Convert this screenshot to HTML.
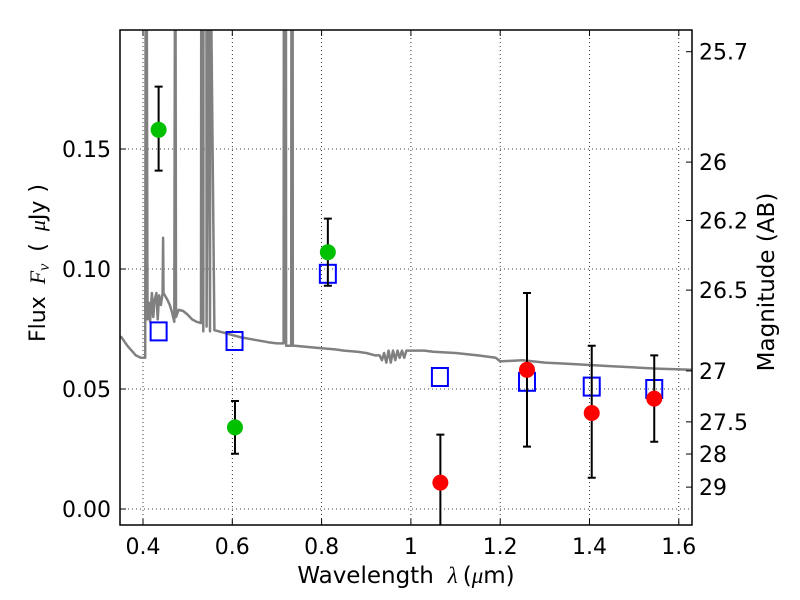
<!DOCTYPE html>
<html><head><meta charset="utf-8"><style>
body{margin:0;background:#fff}
svg{display:block;font-family:"DejaVu Sans","Liberation Sans",sans-serif}
</style></head><body>
<svg id="chart" width="800" height="600" xmlns="http://www.w3.org/2000/svg">
<rect x="0" y="0" width="800" height="600" fill="#fff"/>
<g id="grid"></g>
<g id="spec"></g>
<g id="marks"></g>
<g id="axes"></g>
<text x="406" y="583" font-size="23" text-anchor="middle">Wavelength<tspan dx="14" font-family="Liberation Serif" font-style="italic">λ</tspan><tspan dx="5">(</tspan><tspan font-family="Liberation Serif" font-style="italic">μ</tspan>m)</text>
<text transform="translate(45,263) rotate(-90)" font-size="22" text-anchor="middle">Flux<tspan dx="12" font-family="Liberation Serif" font-style="italic">F<tspan font-size="16" dy="4">ν</tspan></tspan><tspan dx="12" dy="-4">(</tspan><tspan dx="12" font-family="Liberation Serif" font-style="italic">μ</tspan>Jy<tspan dx="8">)</tspan></text>
<text transform="translate(774,282) rotate(-90)" font-size="23" text-anchor="middle">Magnitude (AB)</text>
</svg>
<script>
const xTicks=[0.4,0.6,0.8,1.0,1.2,1.4,1.6];
const xTickLabels=["0.4","0.6","0.8","1","1.2","1.4","1.6"];
const yTicks=[0.00,0.05,0.10,0.15];
const yTickLabels=["0.00","0.05","0.10","0.15"];
const magTicks=[25.7,26,26.2,26.5,27,27.5,28,29];
const magTickLabels=["25.7","26","26.2","26.5","27","27.5","28","29"];
const specWave=[0.35,0.365,0.384,0.395,0.402,0.405,0.406,0.408,0.41,0.413,0.416,0.42,0.423,0.426,0.43,0.433,0.436,0.44,0.444,0.445,0.446,0.449,0.455,0.46,0.465,0.47,0.472,0.4725,0.474,0.48,0.49,0.5,0.51,0.52,0.53,0.5305,0.532,0.535,0.5355,0.542,0.5425,0.546,0.5465,0.55,0.5505,0.56,0.58,0.6,0.62,0.65,0.68,0.7,0.715,0.7155,0.72,0.7205,0.732,0.7325,0.735,0.7355,0.74,0.77,0.8,0.83,0.85,0.88,0.9,0.92,0.93,0.935,0.94,0.945,0.95,0.955,0.96,0.965,0.97,0.975,0.98,0.985,0.99,1.0,1.03,1.05,1.1,1.15,1.19,1.2,1.25,1.3,1.35,1.4,1.45,1.5,1.55,1.63];
const specFlux=[0.072,0.068,0.064,0.063,0.063,0.063,0.25,0.25,0.079,0.086,0.078,0.09,0.08,0.087,0.09,0.079,0.089,0.085,0.09,0.113,0.09,0.089,0.087,0.085,0.082,0.078,0.25,0.25,0.08,0.083,0.0825,0.081,0.079,0.078,0.0775,0.25,0.25,0.074,0.25,0.25,0.076,0.25,0.25,0.074,0.25,0.0745,0.0735,0.0725,0.0715,0.0705,0.0695,0.069,0.069,0.25,0.25,0.068,0.068,0.25,0.25,0.068,0.068,0.0675,0.067,0.0665,0.066,0.0655,0.065,0.064,0.064,0.062,0.065,0.061,0.066,0.061,0.066,0.062,0.066,0.063,0.066,0.063,0.066,0.066,0.066,0.0655,0.065,0.064,0.063,0.0615,0.062,0.061,0.0605,0.06,0.0595,0.059,0.0585,0.058,0.058];
const greenWave=[0.435,0.606,0.814];
const greenFlux=[0.158,0.034,0.107];
const greenLo=[0.141,0.023,0.093];
const greenHi=[0.176,0.045,0.121];
const redWave=[1.066,1.26,1.405,1.545];
const redFlux=[0.011,0.058,0.040,0.046];
const redLo=[-0.02,0.026,0.013,0.028];
const redHi=[0.031,0.090,0.068,0.064];
const modelWave=[0.435,0.605,0.814,1.065,1.26,1.405,1.545];
const modelFlux=[0.074,0.070,0.098,0.055,0.053,0.051,0.050];

const L=120,R=692,T=30,B=525;
const X=v=>143+(v-0.4)*446.5;
const Y=v=>509-v*2400;
const magY=m=>Y(Math.pow(10,(23.9-m)/2.5));
const NS="http://www.w3.org/2000/svg";
function mk(parent,tag,attrs){const e=document.createElementNS(NS,tag);for(const k in attrs)e.setAttribute(k,attrs[k]);document.getElementById(parent).appendChild(e);return e;}

xTicks.forEach((v,i)=>{
 const g=mk('grid','line',{x1:X(v),x2:X(v),y1:T,y2:B,stroke:'#000','stroke-width':0.8,'stroke-dasharray':'1,3'});
 
 
});
yTicks.forEach(v=>{
 const g=mk('grid','line',{x1:L,x2:R,y1:Y(v),y2:Y(v),stroke:'#000','stroke-width':0.8,'stroke-dasharray':'1,3'});
 
 
});
const defs=mk('spec','clipPath',{id:'clip'});
const cr=document.createElementNS(NS,'rect');cr.setAttribute('x',L);cr.setAttribute('y',T);cr.setAttribute('width',R-L);cr.setAttribute('height',B-T);defs.appendChild(cr);
const sp=mk('spec','path',{d:specWave.map((w,i)=>(i?'L':'M')+X(w).toFixed(1)+','+Y(specFlux[i]).toFixed(1)).join(''),fill:'none',stroke:'#808080','stroke-width':2.5,'stroke-linejoin':'round','clip-path':'url(#clip)'});


modelWave.forEach((w,i)=>{
 const s=mk('marks','rect',{x:X(w)-8,y:Y(modelFlux[i])-9,width:16,height:18,fill:'none',stroke:'#0000ff','stroke-width':2});
 
 
});
function pts(ws,fs,lo,hi,col,nm){
 ws.forEach((w,i)=>{
  const x=X(w),y1=Math.min(Y(lo[i]),B),y2=Y(hi[i]);
  const e=mk('marks','path',{d:`M${x},${y1}L${x},${y2}M${x-4},${y2}L${x+4},${y2}`+(Y(lo[i])<B?`M${x-4},${y1}L${x+4},${y1}`:''),stroke:'#000','stroke-width':2,fill:'none'});
  
  
  const c=mk('marks','circle',{cx:x,cy:Y(fs[i]),r:8,fill:col});
  
  
 });
}
pts(greenWave,greenFlux,greenLo,greenHi,'#00c000','optical-detection');
pts(redWave,redFlux,redLo,redHi,'#ff0000','nir-detection');
const fr=mk('axes','rect',{x:L,y:T,width:R-L,height:B-T,fill:'none',stroke:'#000','stroke-width':1.5});


xTicks.forEach((v,i)=>{
 mk('axes','path',{d:`M${X(v)},${B}v-6M${X(v)},${T}v6`,stroke:'#000'});
 const t=mk('axes','text',{x:X(v),y:554,'font-size':22,'text-anchor':'middle'});t.textContent=xTickLabels[i];
 
 
});
yTicks.forEach((v,i)=>{
 mk('axes','path',{d:`M${L},${Y(v)}h6`,stroke:'#000'});
 const t=mk('axes','text',{x:111,y:Y(v)+8,'font-size':22,'text-anchor':'end'});t.textContent=yTickLabels[i];
 
 
});
magTicks.forEach((m,i)=>{
 const y=magY(m);
 mk('axes','path',{d:`M${R},${y}h-6`,stroke:'#000'});
 const t=mk('axes','text',{x:699,y:y+8,'font-size':22});t.textContent=magTickLabels[i];
 
 
});
</script>
</body></html>
